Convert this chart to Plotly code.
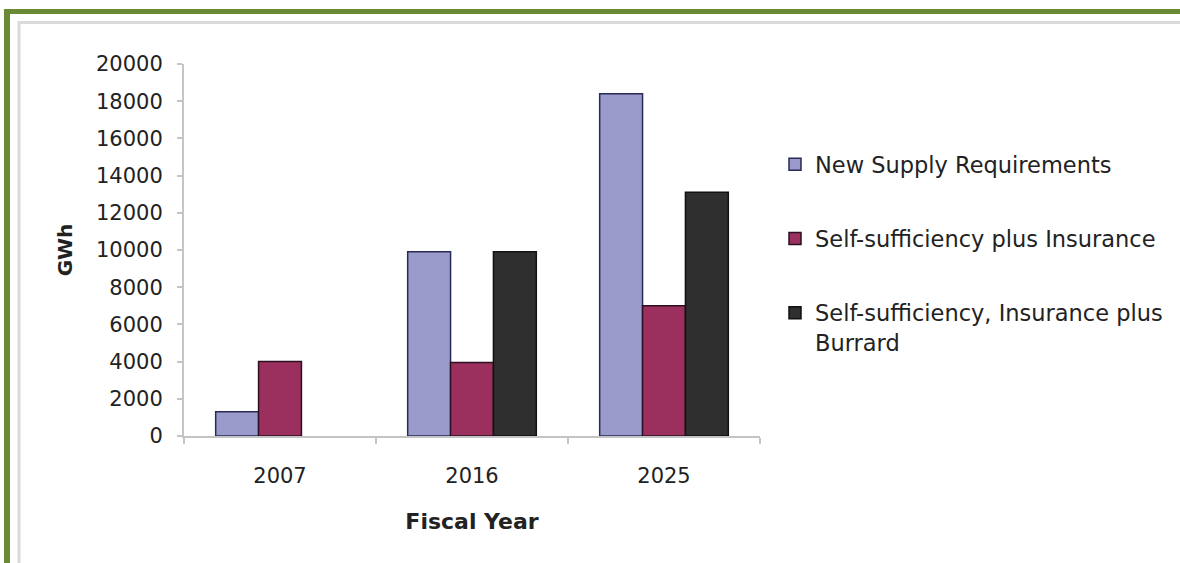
import plotly.graph_objects as go

# Fiscal years on the category axis
years = ["2007", "2016", "2025"]

# Energy requirement scenarios (GWh)
new_supply = [1300, 9900, 18400]
self_suff_insurance = [4000, 3950, 7000]
self_suff_insurance_burrard = [None, 9900, 13100]

series_names = [
    "New Supply Requirements",
    "Self-sufficiency plus Insurance",
    "Self-sufficiency, Insurance plus<br>Burrard",
]
series_values = [new_supply, self_suff_insurance, self_suff_insurance_burrard]
series_colors = ["#9a9acb", "#9b305f", "#2f2f2f"]
outline_colors = ["#2a2a5a", "#2a1020", "#111111"]

y_ticks = list(range(0, 20001, 2000))
y_tick_labels = [str(v) for v in y_ticks]

W, H = 1180, 563
FONT = "DejaVu Sans"
TEXT = "#222222"
AXIS = "#c4c4c4"


def px_x(x):
    return x / W


def px_y(y):
    return 1 - y / H


fig = go.Figure()
for i, (name, vals, col, oc) in enumerate(zip(series_names, series_values, series_colors, outline_colors)):
    fig.add_trace(
        go.Bar(
            x=years,
            y=vals,
            name=name,
            legendgroup=f"g{i}",
            marker=dict(color=col, line=dict(color=oc, width=1.5)),
        )
    )

# Frame: green border on the left and top with a faint grey inner rule
fig.add_shape(type="line", xref="paper", yref="paper",
              x0=px_x(7), x1=px_x(7), y0=px_y(9), y1=0,
              line=dict(color="#6b8a35", width=6))
fig.add_shape(type="line", xref="paper", yref="paper",
              x0=px_x(4), x1=1, y0=px_y(11.5), y1=px_y(11.5),
              line=dict(color="#6b8a35", width=5))
fig.add_shape(type="line", xref="paper", yref="paper",
              x0=px_x(19), x1=px_x(19), y0=px_y(21), y1=0,
              line=dict(color="#dadada", width=3))
fig.add_shape(type="line", xref="paper", yref="paper",
              x0=px_x(18), x1=1, y0=px_y(22.5), y1=px_y(22.5),
              line=dict(color="#dadada", width=3))

fig.update_layout(
    width=W,
    height=H,
    margin=dict(l=0, r=0, t=0, b=0, autoexpand=False),
    paper_bgcolor="white",
    plot_bgcolor="white",
    barmode="group",
    bargap=0.33,
    bargroupgap=0,
    font=dict(family=FONT, size=20, color=TEXT),
    xaxis=dict(
        domain=[px_x(184), px_x(760)],
        type="category",
        showline=True,
        linecolor=AXIS,
        linewidth=2,
        ticks="outside",
        tickson="boundaries",
        ticklen=6,
        tickcolor=AXIS,
        tickwidth=1.5,
        showgrid=False,
        tickfont=dict(size=21, color=TEXT),
        ticklabelstandoff=20,
        title=dict(text="<b>Fiscal Year</b>", font=dict(size=22, color=TEXT), standoff=26),
    ),
    yaxis=dict(
        domain=[px_y(436), px_y(64)],
        range=[0, 20000],
        tickvals=y_ticks,
        ticktext=y_tick_labels,
        showline=True,
        linecolor=AXIS,
        linewidth=2,
        ticks="outside",
        ticklen=5,
        tickcolor=AXIS,
        tickwidth=1.5,
        showgrid=False,
        zeroline=False,
        tickfont=dict(size=21, color=TEXT),
        ticklabelstandoff=10,
        title=dict(text="<b>GWh</b>", font=dict(size=20, color=TEXT), standoff=18),
    ),
    legend=dict(
        x=px_x(775),
        y=px_y(143),
        xanchor="left",
        yanchor="top",
        font=dict(size=22.5, color=TEXT),
        tracegroupgap=42,
        valign="top",
        bgcolor="rgba(0,0,0,0)",
    ),
    showlegend=True,
)

fig.write_html("out.html")
